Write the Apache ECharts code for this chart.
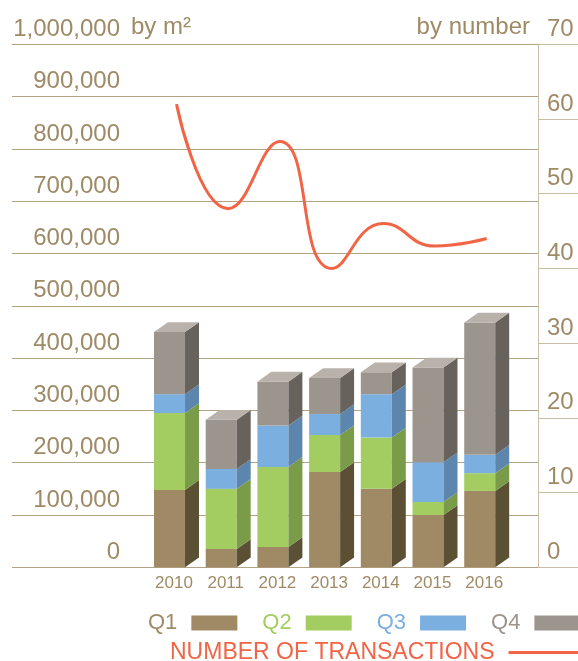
<!DOCTYPE html>
<html>
    <head>
        <meta charset="utf-8">
        <style>
            html, body { margin: 0; padding: 0; background: #fff; }
        </style>
    </head>
    <body>
        <div id="main" style="width:578px;height:661px"></div>
        <script src="https://cdn.jsdelivr.net/npm/echarts@6/dist/echarts.min.js"></script>
        <script type="text/javascript">
            // values
            var years = ['2010', '2011', '2012', '2013', '2014', '2015', '2016']
            var q1 = [148000, 35000, 39000, 182000, 150000, 100000, 146000]
            var q2 = [147000, 115000, 153000, 71000, 98000, 25000, 34000]
            var q3 = [36000, 38000, 79000, 40000, 83000, 76000, 35000]
            var q4 = [119000, 94000, 84000, 69000, 42000, 181000, 253000]
            var transactions = [62, 48, 57, 40, 46, 43, 44]

            var tan = '#9f8a66'
            var font = 'Liberation Sans'
            var quarters = [
                { name: 'Q1', data: q1, front: '#a08a65', side: '#5b4f34', top: '#b9ab90' },
                { name: 'Q2', data: q2, front: '#a3cd60', side: '#7a9b48', top: '#c2df94' },
                { name: 'Q3', data: q3, front: '#7aafdf', side: '#5c86ad', top: '#a9cbea' },
                { name: 'Q4', data: q4, front: '#9c958e', side: '#67625c', top: '#b8b2ab' }
            ]

            // stack by hand: [index, value, base]
            var base = years.map(function () { return 0 })
            var barSeries = quarters.map(function (q, k) {
                var rows = q.data.map(function (v, i) {
                    var row = [i, v, base[i]]
                    base[i] += v
                    return row
                })
                var isTop = k === quarters.length - 1
                return {
                    name: q.name,
                    type: 'custom',
                    xAxisIndex: 1,
                    yAxisIndex: 2,
                    itemStyle: { color: q.front },
                    data: rows,
                    renderItem: function (params, api) {
                        var i = api.value(0), v = api.value(1), b = api.value(2)
                        var pt = api.coord([i, b + v])
                        var pb = api.coord([i, b])
                        var band = api.size([1, 0])[0]
                        var w = band * 0.6, dx = band * 0.27, dy = dx * 0.7
                        var fl = pt[0] - (w + dx) / 2, fr = fl + w
                        var yt = pt[1], yb = pb[1]
                        var kids = [
                            { type: 'rect', shape: { x: fl, y: yt, width: w, height: yb - yt }, style: { fill: q.front } },
                            { type: 'polygon', shape: { points: [[fr, yb], [fr, yt], [fr + dx, yt - dy], [fr + dx, yb - dy]] }, style: { fill: q.side } }
                        ]
                        if (isTop) {
                            kids.push({ type: 'polygon', shape: { points: [[fl, yt], [fr, yt], [fr + dx, yt - dy], [fl + dx, yt - dy]] }, style: { fill: q.top } })
                        }
                        return { type: 'group', children: kids }
                    }
                }
            })

            var gTop = 44.3, gBottom = 661 - 567.3

            var option = {
                animation: false,
                textStyle: { fontFamily: font },
                grid: [
                    { left: 12, right: 40, top: gTop, bottom: gBottom },
                    { left: 150.65, right: 65.45, top: gTop, bottom: gBottom }
                ],
                xAxis: [
                    { type: 'category', gridIndex: 0, data: years, show: false },
                    {
                        type: 'category', gridIndex: 1, data: years,
                        axisLine: { show: false }, axisTick: { show: false },
                        axisLabel: { color: tan, fontSize: 17, margin: 8, padding: [0, 5, 0, 0] }
                    }
                ],
                yAxis: [
                    {
                        type: 'value', gridIndex: 0, position: 'left',
                        min: 0, max: 1000000, interval: 100000,
                        axisLine: { show: false }, axisTick: { show: false },
                        splitLine: { lineStyle: { color: '#b3a283', width: 1 } },
                        axisLabel: {
                            inside: true, margin: 108, align: 'right', verticalAlign: 'bottom',
                            lineHeight: 30, color: tan, fontSize: 24,
                            formatter: function (v) { return v.toLocaleString('en-US') }
                        }
                    },
                    {
                        type: 'value', gridIndex: 0, position: 'right',
                        min: 0, max: 70, interval: 10,
                        axisLine: { show: true, lineStyle: { color: '#c9bda6', width: 1 } },
                        axisTick: { show: true, length: 40, lineStyle: { color: '#c9bda6', width: 1 } },
                        splitLine: { show: false },
                        axisLabel: {
                            margin: 9, align: 'left', verticalAlign: 'bottom',
                            lineHeight: 30, color: tan, fontSize: 24
                        }
                    },
                    { type: 'value', gridIndex: 1, min: 0, max: 1000000, show: false, splitLine: { show: false } },
                    { type: 'value', gridIndex: 1, min: 0, max: 70, show: false, splitLine: { show: false } }
                ],
                legend: [
                    {
                        left: 148, top: 612, width: 450, padding: 0, align: 'right', icon: 'rect',
                        itemWidth: 46, itemHeight: 15, itemGap: 25,
                        textStyle: { fontSize: 22, padding: [0, 9, 0, 0] },
                        data: quarters.map(function (q) {
                            return { name: q.name, textStyle: { color: q.front } }
                        })
                    },
                    {
                        left: 170, top: 641, width: 450, padding: 0, align: 'right', icon: 'rect',
                        itemWidth: 72, itemHeight: 3,
                        textStyle: { fontSize: 23, color: '#f26446', padding: [0, 9, 0, 0] },
                        data: ['NUMBER OF TRANSACTIONS']
                    }
                ],
                graphic: [
                    { type: 'text', x: 131, y: 27, style: { text: 'by m²', fill: tan, font: '24px ' + font, verticalAlign: 'middle' } },
                    { type: 'text', x: 530, y: 27, style: { text: 'by number', fill: tan, font: '24px ' + font, align: 'right', verticalAlign: 'middle' } }
                ],
                series: barSeries.concat([{
                    name: 'NUMBER OF TRANSACTIONS',
                    type: 'line',
                    xAxisIndex: 1,
                    yAxisIndex: 3,
                    smooth: true,
                    symbol: 'none',
                    color: '#f26446',
                    lineStyle: { color: '#f26446', width: 3 },
                    z: 5,
                    data: transactions
                }])
            }

            var mychart = echarts.init(document.getElementById('main'))
            mychart.setOption(option)
        </script>
    </body>
</html>
